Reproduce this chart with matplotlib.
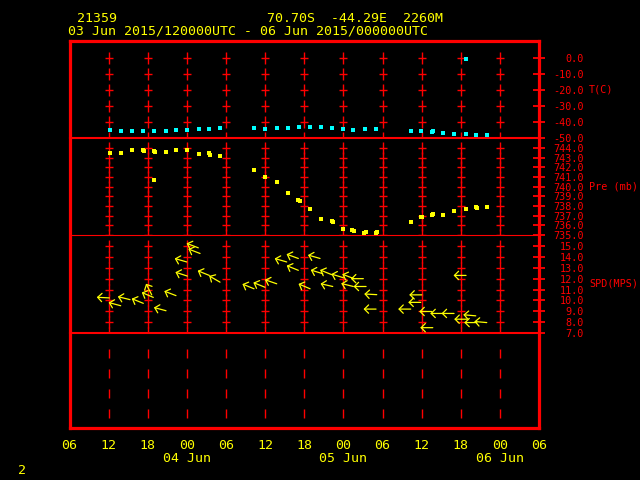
import numpy as np
import matplotlib
matplotlib.use("Agg")
import matplotlib.pyplot as plt

plt.rcParams["font.family"] = "DejaVu Sans Mono"
plt.rcParams["lines.scale_dashes"] = False

RED = "#FF0000"
YEL = "#FFFF00"
CYAN = "#00FFFF"

# ── data (time = hours since 03 Jun 2015 06 UTC) ─────────────────────────────
t_temp = [6.21, 7.90, 9.59, 11.32, 13.01, 14.80, 16.33, 18.07, 19.91, 21.44,
          23.08, 28.30, 29.98, 31.82, 33.51, 35.15, 36.89, 38.62, 40.31, 41.95,
          43.48, 45.32, 47.06, 52.38, 53.96, 55.60, 55.75, 57.29, 58.93, 60.77,
          62.39, 64.03, 60.77]
temp = [-45.0, -45.6, -45.6, -45.6, -45.6, -45.6, -45.0, -45.0, -44.4, -44.4,
        -43.8, -43.8, -44.4, -43.8, -43.8, -43.1, -43.1, -43.1, -43.8, -44.4,
        -45.0, -44.4, -44.4, -45.6, -45.6, -46.3, -45.6, -46.9, -47.5, -47.5,
        -48.1, -48.1, -0.6]

t_pres = [6.21, 7.85, 9.54, 11.27, 11.43, 12.96, 13.11, 12.96, 14.75, 16.29,
          18.07, 19.91, 21.40, 21.55, 23.08, 28.30, 29.98, 31.82, 33.51, 35.05,
          35.35, 36.89, 38.62, 40.26, 40.37, 41.95, 43.33, 43.63, 45.21, 45.43,
          47.01, 47.21, 52.33, 53.91, 54.01, 55.60, 55.75, 57.29, 58.93, 60.77,
          62.35, 62.45, 64.03]
pres = [743.51, 743.51, 743.82, 743.79, 743.72, 743.72, 743.62, 740.72, 743.62, 743.82,
        743.82, 743.41, 743.51, 743.31, 743.20, 741.76, 741.03, 740.52, 739.38, 738.65,
        738.55, 737.72, 736.69, 736.48, 736.38, 735.66, 735.55, 735.45, 735.24, 735.34,
        735.24, 735.34, 736.38, 736.90, 736.90, 737.10, 737.21, 737.10, 737.52, 737.72,
        737.93, 737.83, 737.93]

t_wind = [6.10, 7.85, 9.28, 11.32, 12.61, 12.85, 14.80, 16.33, 17.98, 18.07,
          19.75, 20.02, 21.44, 23.08, 28.30, 29.98, 31.78, 33.31, 35.09, 35.09,
          36.89, 38.42, 38.83, 40.21, 40.37, 41.99, 43.53, 43.63, 45.06, 45.48,
          47.12, 47.01, 52.33, 54.02, 53.87, 55.55, 55.71, 57.24, 58.97, 60.81,
          60.92, 62.30, 62.45, 63.99]
wspd = [10.23, 9.51, 10.07, 9.73, 10.51, 10.28, 9.05, 10.44, 13.54, 12.24,
        14.84, 14.32, 12.30, 11.68, 11.07, 11.21, 11.53, 13.54, 13.86, 12.77,
        11.07, 13.86, 12.46, 12.37, 11.28, 12.09, 11.28, 12.00, 12.00, 11.28,
        10.53, 9.20, 9.20, 10.51, 9.82, 8.98, 7.49, 8.80, 8.80, 12.30,
        8.27, 8.58, 7.96, 7.96]
wdir = [93, 105, 104, 112, 153, 113, 105, 111, 106, 108,
        111, 111, 112, 120, 112, 112, 109, 106, 110, 112,
        113, 106, 107, 112, 103, 107, 104, 111, 90, 90,
        93, 90, 90, 90, 90, 90, 90, 90, 90, 90,
        90, 95, 90, 95]

hour_ticks = list(range(0, 73, 6))
hour_labels = ["06", "12", "18", "00", "06", "12", "18", "00", "06", "12", "18", "00", "06"]
day_ticks = [18, 42, 66]
day_labels = ["04 Jun", "05 Jun", "06 Jun"]

t_levels = [0, -10, -20, -30, -40, -50]
p_levels = [744, 743, 742, 741, 740, 739, 738, 737, 736, 735]
w_levels = [15, 14, 13, 12, 11, 10, 9, 8, 7]
grid_hours = hour_ticks[1:-1]

# ── layout (pixel boxes in a 640x480 canvas) ─────────────────────────────────
W_PX, H_PX = 640, 480
X0, X1 = 69.5, 539.0


def px_box(top, bottom):
    return [X0 / W_PX, 1 - bottom / H_PX, (X1 - X0) / W_PX, (bottom - top) / H_PX]


fig = plt.figure(figsize=(6.4, 4.8), dpi=100, facecolor="black")


def panel(top, bottom, ylim, levels, name, sep_lw):
    ax = fig.add_axes(px_box(top, bottom))
    ax.set_facecolor("none")
    ax.set_xlim(0, 72)
    ax.set_ylim(*ylim)
    for s in ["top", "left", "right"]:
        ax.spines[s].set_visible(False)
    ax.spines["bottom"].set_color(RED)
    ax.spines["bottom"].set_linewidth(sep_lw)
    ax.set_xticks([])
    ax.yaxis.tick_right()
    ax.set_yticks(levels)
    ax.set_yticklabels([f"{v:.1f}" for v in levels])
    ax.tick_params(axis="y", direction="inout", length=8, width=1.3,
                   color=RED, labelcolor=RED, labelsize=7.3, pad=28.4)
    for lab in ax.get_yticklabels():
        lab.set_horizontalalignment("right")
    # grid crosses
    gx, gy = np.meshgrid(grid_hours, levels)
    ax.plot(gx.ravel(), gy.ravel(), ls="none", marker="|", ms=8.6, mew=1.0,
            color=RED, zorder=1)
    ax.plot(gx.ravel(), gy.ravel(), ls="none", marker="_", ms=5.2, mew=1.0,
            color=RED, zorder=1)
    ax.text(1.1065, 0.5, name, transform=ax.transAxes, color=RED,
            fontsize=7.3, ha="left", va="center")
    return ax


ax_t = panel(41, 138, (-50, 10.625), t_levels, "T(C)", 1.5)
ax_p = panel(138, 235, (735, 745.03), p_levels, "Pre (mb)", 0.8)
ax_w = panel(235, 333, (7, 16.02), w_levels, "SPD(MPS)", 1.5)

# temperature
ax_t.plot(t_temp, temp, ls="none", marker="s", ms=3.4, mew=0, color=CYAN, zorder=3)

# pressure
ax_p.plot(t_pres, pres, ls="none", marker="s", ms=3.4, mew=0, color=YEL, zorder=3)

# wind arrows: tail at (time, speed), pointing where the wind blows to
ARROW_PT = 9.0
for t, s, d in zip(t_wind, wspd, wdir):
    r = np.deg2rad(d)
    dx, dy = -np.sin(r) * ARROW_PT, -np.cos(r) * ARROW_PT
    ax_w.annotate("", xy=(t, s), xytext=(dx, dy), textcoords="offset points",
                  arrowprops=dict(arrowstyle="<-,head_length=0.3,head_width=0.3",
                                  color=YEL, lw=0.9, shrinkA=0, shrinkB=0),
                  zorder=3)

# blank bottom strip with dashed time lines
ax_b = fig.add_axes(px_box(333, 428))
ax_b.set_facecolor("none")
ax_b.set_xlim(0, 72)
ax_b.set_ylim(0, 1)
ax_b.axis("off")
ax_b.vlines(grid_hours, 0.105, 0.832, colors=RED, linewidth=1.0,
            linestyles=(0, (6.5, 7.9)))

# outer frame + time labels
ax_f = fig.add_axes(px_box(41, 428))
ax_f.set_facecolor("none")
ax_f.set_xlim(0, 72)
ax_f.set_ylim(0, 1)
for s in ax_f.spines.values():
    s.set_color(RED)
    s.set_linewidth(2.3)
ax_f.set_yticks([])
ax_f.set_xticks(hour_ticks)
ax_f.set_xticklabels(hour_labels)
ax_f.tick_params(axis="x", length=0, labelcolor=YEL, labelsize=9.5, pad=8)
for h, lab in zip(day_ticks, day_labels):
    ax_f.text(h, -0.080, lab, transform=ax_f.get_xaxis_transform(),
              color=YEL, fontsize=9.5, ha="center", va="center")

# header
fig.text(76.5 / W_PX, 1 - 18 / H_PX, "21359", color=YEL, fontsize=9.5, va="center")
fig.text(266.7 / W_PX, 1 - 18 / H_PX, "70.70S  -44.29E  2260M", color=YEL,
         fontsize=9.5, va="center")
fig.text(68.4 / W_PX, 1 - 31 / H_PX,
         "03 Jun 2015/120000UTC - 06 Jun 2015/000000UTC", color=YEL,
         fontsize=9.5, va="center")
fig.text(18 / W_PX, 1 - 471 / H_PX, "2", color=YEL, fontsize=9.5, va="center")

fig.savefig("out.png", dpi=100, facecolor="black")
